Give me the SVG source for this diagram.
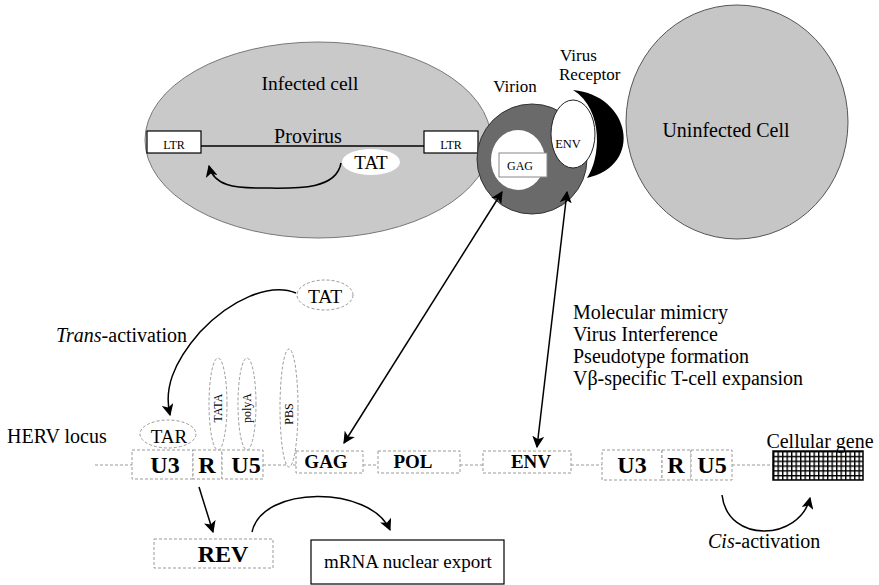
<svg xmlns="http://www.w3.org/2000/svg" width="879" height="585" viewBox="0 0 879 585" font-family="'Liberation Serif', 'DejaVu Serif', serif">
<style>
text{font-family:'Liberation Serif','DejaVu Serif',serif;fill:#000}
.b{font-weight:bold}
.dbox{fill:#fff;stroke:#9a9a9a;stroke-width:1;stroke-dasharray:3 2}
.dell{fill:#fff;stroke:#9a9a9a;stroke-width:1;stroke-dasharray:3 2}
.dl{stroke:#9a9a9a;stroke-width:1;stroke-dasharray:3 2;fill:none}
.conn{fill:none;stroke:#000;stroke-width:1.5}
</style>
<defs>
<marker id="ah2" viewBox="0 0 10 10" refX="9" refY="5" markerWidth="12" markerHeight="12" orient="auto-start-reverse" markerUnits="userSpaceOnUse">
<path d="M0,0 L10,5 L0,10 L2.5,5 Z" fill="#000"/>
</marker>
<pattern id="grid" width="4.5" height="4.8" patternUnits="userSpaceOnUse" x="773" y="451">
<rect width="4.5" height="4.8" fill="#000"/>
<rect x="1.4" y="1.4" width="3.1" height="3.4" fill="#fff"/>
</pattern>
</defs>

<g id="infected-cell">
<ellipse cx="318" cy="140" rx="173" ry="98" fill="#c9c9c9" stroke="#777" stroke-width="1"/>
<text x="310" y="90" font-size="19.5" text-anchor="middle">Infected cell</text>
<line x1="201" y1="146" x2="424" y2="146" stroke="#000" stroke-width="1.5"/>
<text x="308" y="143" font-size="20" text-anchor="middle">Provirus</text>
</g>
<g id="ltr-left">
<rect x="147" y="131" width="54" height="22" fill="#fff" stroke="#000" stroke-width="1.2"/>
<text x="174" y="149" font-size="12" text-anchor="middle">LTR</text>
</g>
<g id="ltr-right">
<rect x="424" y="131" width="54" height="22" fill="#fff" stroke="#000" stroke-width="1.2"/>
<text x="451" y="149" font-size="12" text-anchor="middle">LTR</text>
</g>
<g id="tat-provirus">
<ellipse cx="371" cy="162" rx="29" ry="13" fill="#fff"/>
<text x="371" y="169" font-size="19" text-anchor="middle">TAT</text>
</g>

<g id="virion">
<circle cx="532" cy="159" r="55" fill="#6a6a6a" stroke="#333" stroke-width="1"/>
<ellipse cx="518" cy="160" rx="27" ry="30" fill="#fff"/>
<rect x="499" y="153" width="48" height="24" fill="#fff" stroke="#888" stroke-width="1"/>
<text x="520" y="170" font-size="12" text-anchor="middle">GAG</text>
<ellipse cx="573" cy="134" rx="22" ry="34" fill="#fff" stroke="#222" stroke-width="1"/>
<text x="568" y="148" font-size="12.5" text-anchor="middle">ENV</text>
<text x="515" y="92" font-size="17" text-anchor="middle">Virion</text>
</g>

<g id="virus-receptor">
<path d="M573,90 C630,95 645,165 587,178 C600,160 605,110 573,90 Z" fill="#000"/>
<text x="560" y="61" font-size="17">Virus</text>
<text x="559" y="80" font-size="17">Receptor</text>
</g>

<g id="uninfected-cell">
<ellipse cx="737" cy="122" rx="111" ry="117" fill="#c6c6c6" stroke="#555" stroke-width="1"/>
<text x="726" y="137" font-size="20" text-anchor="middle">Uninfected Cell</text>
</g>

<g id="herv-locus">
<text x="7" y="443" font-size="20">HERV locus</text>
<line class="dl" x1="95" y1="465" x2="132" y2="465"/>
<line class="dl" x1="263" y1="465" x2="296" y2="465"/>
<line class="dl" x1="363" y1="465" x2="378" y2="465"/>
<line class="dl" x1="460" y1="465" x2="483" y2="465"/>
<line class="dl" x1="571" y1="465" x2="602" y2="465"/>
<line class="dl" x1="732" y1="465" x2="773" y2="465"/>
</g>
<g id="ltr5">
<rect class="dbox" x="132" y="450" width="61" height="29"/>
<rect class="dbox" x="193" y="450" width="29" height="29"/>
<rect class="dbox" x="222" y="450" width="41" height="29"/>
<text class="b" x="165" y="473" font-size="24" text-anchor="middle">U3</text>
<text class="b" x="207" y="473" font-size="24" text-anchor="middle">R</text>
<text class="b" x="246" y="473" font-size="24" text-anchor="middle">U5</text>
</g>
<g id="tar">
<ellipse class="dell" cx="168" cy="434" rx="28" ry="14"/>
<text x="169" y="443" font-size="19" text-anchor="middle">TAR</text>
</g>
<g id="tata">
<ellipse class="dell" cx="218" cy="404" rx="9" ry="46"/>
<text transform="translate(222,408) rotate(-90)" font-size="12" text-anchor="middle">TATA</text>
</g>
<g id="polya">
<ellipse class="dell" cx="247" cy="404" rx="9" ry="46"/>
<text transform="translate(251,408) rotate(-90)" font-size="12" text-anchor="middle">polyA</text>
</g>
<g id="pbs">
<ellipse class="dell" cx="289" cy="408" rx="9" ry="59"/>
<text transform="translate(293,414) rotate(-90)" font-size="12" text-anchor="middle">PBS</text>
</g>
<g id="gag">
<rect class="dbox" x="296" y="451" width="67" height="22"/>
<text class="b" x="326" y="468" font-size="19" text-anchor="middle">GAG</text>
</g>
<g id="pol">
<rect class="dbox" x="378" y="451" width="82" height="22"/>
<text class="b" x="413" y="468" font-size="19" text-anchor="middle">POL</text>
</g>
<g id="env">
<rect class="dbox" x="483" y="451" width="88" height="22"/>
<text class="b" x="531" y="468" font-size="19" text-anchor="middle">ENV</text>
</g>
<g id="ltr3">
<rect class="dbox" x="602" y="450" width="60" height="30"/>
<rect class="dbox" x="662" y="450" width="29" height="30"/>
<rect class="dbox" x="691" y="450" width="41" height="30"/>
<text class="b" x="632" y="473" font-size="24" text-anchor="middle">U3</text>
<text class="b" x="676" y="473" font-size="24" text-anchor="middle">R</text>
<text class="b" x="712" y="473" font-size="24" text-anchor="middle">U5</text>
</g>
<g id="cellular-gene">
<rect x="773" y="451" width="90" height="29" fill="url(#grid)" stroke="#000" stroke-width="1.5"/>
<text x="820" y="448" font-size="20" text-anchor="middle">Cellular gene</text>
</g>
<g id="tat-free">
<ellipse class="dell" cx="325" cy="295" rx="28" ry="15"/>
<text x="325" y="303" font-size="19.5" text-anchor="middle">TAT</text>
</g>
<g id="rev">
<rect class="dbox" x="154" y="539" width="119" height="29"/>
<text class="b" x="223" y="562" font-size="24" text-anchor="middle">REV</text>
</g>
<g id="mrna-export">
<rect x="311" y="540" width="193" height="44" fill="#fff" stroke="#000" stroke-width="1.2"/>
<text x="408" y="568" font-size="19" text-anchor="middle">mRNA nuclear export</text>
</g>
<g id="effects">
<text x="573" y="319" font-size="20">Molecular mimicry</text>
<text x="573" y="341" font-size="20">Virus Interference</text>
<text x="573" y="363" font-size="20">Pseudotype formation</text>
<text x="573" y="385" font-size="20">Vβ-specific T-cell expansion</text>
</g>

<g id="labels">
<text x="56" y="342" font-size="20"><tspan font-style="italic">Trans</tspan>-activation</text>
<text x="708" y="548" font-size="20"><tspan font-style="italic">Cis</tspan>-activation</text>
</g>

<g id="connectors">
<path class="conn" d="M341,163 C336,192 290,188 260,188 C235,188 214,186 209,166" marker-end="url(#ah2)"/>
<line class="conn" x1="502" y1="192" x2="344" y2="443" stroke-width="1.2" marker-start="url(#ah2)" marker-end="url(#ah2)"/>
<line class="conn" x1="567" y1="192" x2="537" y2="447" stroke-width="1.2" marker-start="url(#ah2)" marker-end="url(#ah2)"/>
<path class="conn" d="M296,293 C270,282 230,300 200,332 C172,364 164,390 170,415" marker-end="url(#ah2)"/>
<line class="conn" x1="199" y1="487" x2="213" y2="532" marker-end="url(#ah2)"/>
<path class="conn" d="M252,532 C262,485 370,485 390,530" marker-end="url(#ah2)"/>
<path class="conn" d="M722,495 C728,545 800,540 810,498" marker-end="url(#ah2)"/>
</g>
</svg>
